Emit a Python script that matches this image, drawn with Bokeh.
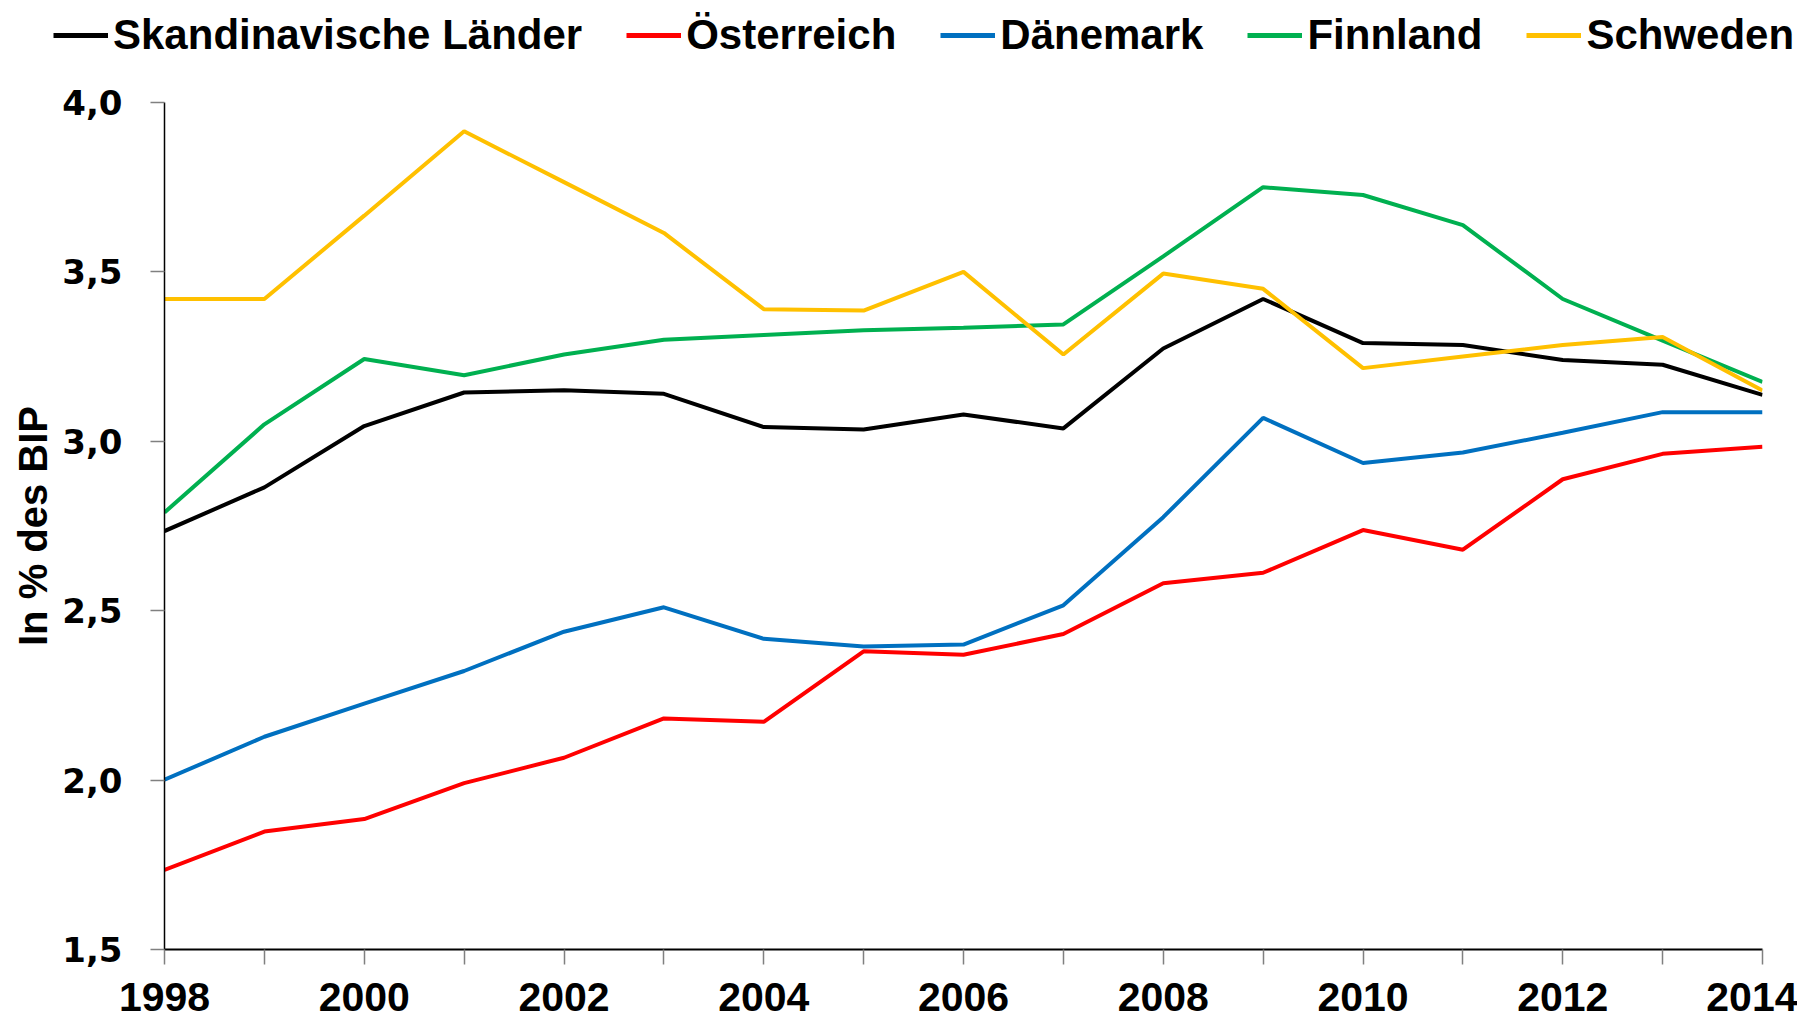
from bokeh.plotting import figure
from bokeh.models import Legend, LegendItem, FixedTicker
from bokeh.embed import file_html
from bokeh.resources import INLINE

years = list(range(1998, 2015))
skandinavien = [2.735, 2.864, 3.045, 3.144, 3.151, 3.140, 3.042, 3.035, 3.079, 3.038, 3.274, 3.420, 3.290, 3.284, 3.240, 3.226, 3.137]
oesterreich = [1.735, 1.848, 1.885, 1.991, 2.066, 2.182, 2.172, 2.380, 2.370, 2.431, 2.581, 2.612, 2.738, 2.680, 2.888, 2.963, 2.984]
daenemark = [2.001, 2.128, 2.226, 2.322, 2.438, 2.510, 2.417, 2.394, 2.400, 2.516, 2.776, 3.069, 2.936, 2.967, 3.025, 3.086, 3.086]
finnland = [2.790, 3.050, 3.243, 3.195, 3.256, 3.300, 3.314, 3.328, 3.335, 3.345, 3.546, 3.750, 3.727, 3.638, 3.420, 3.297, 3.175]
schweden = [3.420, 3.420, 3.666, 3.915, 3.765, 3.615, 3.390, 3.386, 3.500, 3.256, 3.495, 3.450, 3.216, 3.250, 3.284, 3.308, 3.150]

series_names = ["Skandinavische Länder", "Österreich", "Dänemark", "Finnland", "Schweden"]
series_values = [skandinavien, oesterreich, daenemark, finnland, schweden]
colors = ["#000000", "#FF0000", "#0070C0", "#00B050", "#FFC000"]
y_ticks = [1.5, 2.0, 2.5, 3.0, 3.5, 4.0]
y_tick_labels = ["1,5", "2,0", "2,5", "3,0", "3,5", "4,0"]

font = "Liberation Sans"
LINE_W = 4

# ---- main chart ----
p = figure(width=1797, height=955, output_backend="svg", toolbar_location=None,
           x_range=(1998, 2014), y_range=(1.5, 4.0),
           min_border_left=164, min_border_right=35, min_border_top=32, min_border_bottom=76)
p.outline_line_color = None
p.grid.visible = False
p.background_fill_color = "white"

for name, vals, c in zip(series_names, series_values, colors):
    p.line(years, vals, line_color=c, line_width=LINE_W)

# x axis
p.xaxis.ticker = FixedTicker(ticks=years)
p.xaxis.major_label_overrides = {y: (str(y) if y % 2 == 0 else "") for y in years}
p.xaxis.major_label_text_font = font
p.xaxis.major_label_text_font_style = "bold"
p.xaxis.major_label_text_font_size = "41px"
p.xaxis.major_label_text_color = "#000000"
p.xaxis.axis_line_color = "#000000"
p.xaxis.axis_line_width = 2
p.xaxis.major_tick_line_color = "#808080"
p.xaxis.major_tick_line_width = 1.5
p.xaxis.major_tick_in = 0
p.xaxis.major_tick_out = 15
p.xaxis.minor_tick_line_color = None
p.xaxis.major_label_standoff = 18

# y axis
p.yaxis.ticker = FixedTicker(ticks=y_ticks)
p.yaxis.major_label_overrides = dict(zip(y_ticks, y_tick_labels))
p.yaxis.major_label_text_font = "DejaVu Sans"
p.yaxis.major_label_text_font_style = "bold"
p.yaxis.major_label_text_font_size = "34px"
p.yaxis.major_label_text_color = "#000000"
p.yaxis.axis_line_color = "#000000"
p.yaxis.axis_line_width = 1.5
p.yaxis.major_tick_line_color = "#808080"
p.yaxis.major_tick_line_width = 1.5
p.yaxis.major_tick_in = 0
p.yaxis.major_tick_out = 14
p.yaxis.minor_tick_line_color = None
p.yaxis.major_label_standoff = 28
p.yaxis.axis_label = "In % des BIP"
p.yaxis.axis_label_text_font = font
p.yaxis.axis_label_text_font_style = "bold"
p.yaxis.axis_label_text_font_size = "40px"
p.yaxis.axis_label_text_color = "#000000"
p.yaxis.axis_label_standoff = 4

# ---- legend strip (separate root, lines kept out of view) ----
lg = figure(width=1797, height=70, output_backend="svg", toolbar_location=None,
            x_range=(0, 1), y_range=(0, 1),
            x_axis_location=None, y_axis_location=None,
            min_border_left=0, min_border_right=0, min_border_top=0, min_border_bottom=0)
lg.outline_line_color = None
lg.grid.visible = False
items = []
for name, vals, c in zip(series_names, series_values, colors):
    r = lg.line(years, vals, line_color=c, line_width=LINE_W + 1)
    items.append(LegendItem(label=name, renderers=[r]))
legend = Legend(items=items, orientation="horizontal", location=(53, 11),
                label_text_font=font, label_text_font_style="bold",
                label_text_font_size="42px", label_text_color="#000000",
                glyph_width=55, glyph_height=44, label_standoff=5, spacing=44,
                padding=0, margin=0, border_line_color=None, background_fill_alpha=0)
lg.add_layout(legend, "center")

open("out.html", "w").write(file_html([lg, p], INLINE))
